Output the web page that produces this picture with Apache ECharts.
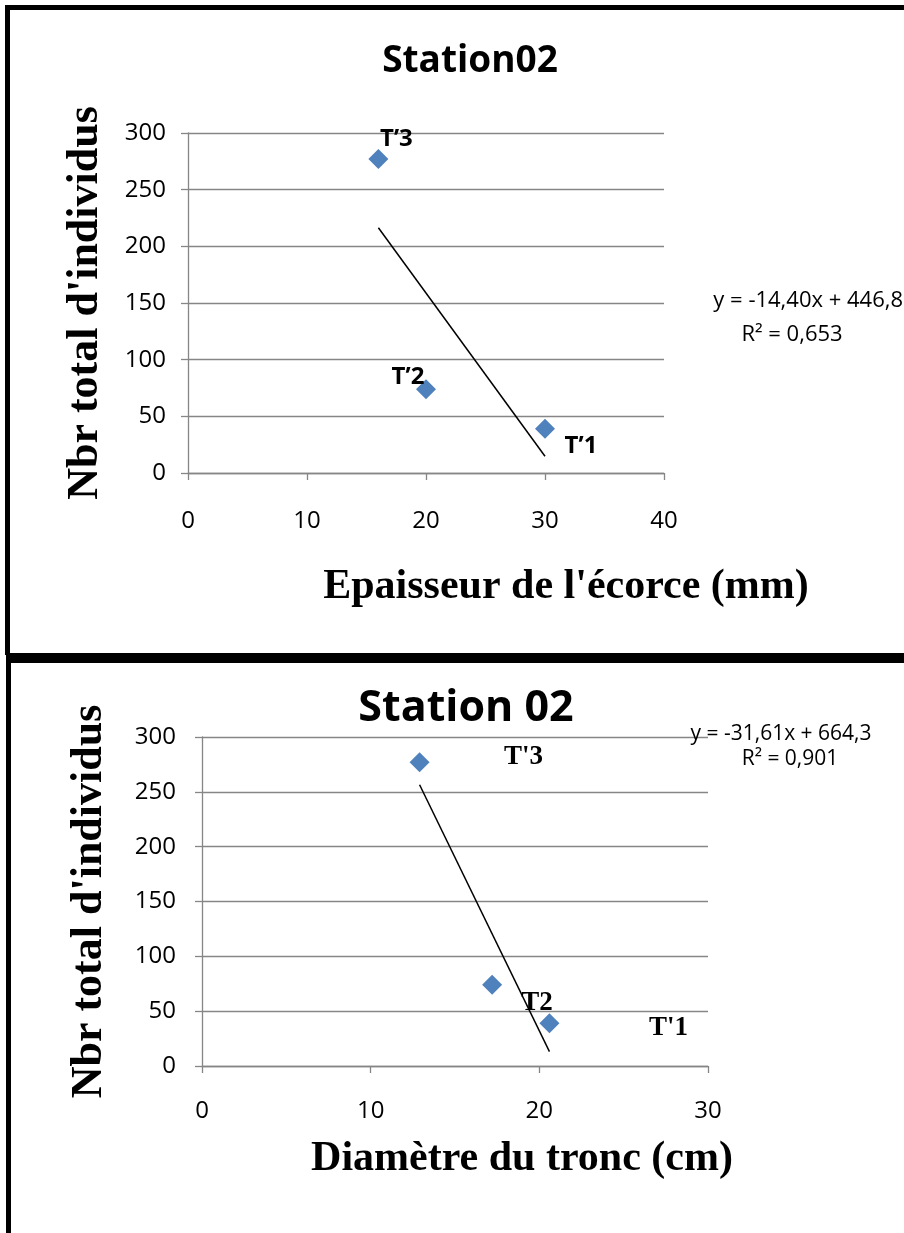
<!DOCTYPE html>
<html>
<head>
<meta charset="utf-8">
<script src="https://cdn.jsdelivr.net/npm/echarts@6/dist/echarts.min.js"></script>
<style>
  html, body { margin: 0; padding: 0; background: #fff; }
  #chart { width: 904px; height: 1233px; }
</style>
</head>
<body>
<div id="chart"></div>
<script>
// values (Station 02)
const individuals = [39, 74, 277];
const barkThickness = [30, 20, 16];       // mm
const trunkDiameter = [20.6, 17.2, 12.9]; // cm
const barkLabels = ['T’1', 'T’2', 'T’3'];
const trunkLabels = ["T'1", 'T2', "T'3"];

// linear trendline end points as drawn
const barkTrendX = [16, 30];
const barkTrendY = [216.4, 14.8];
const trunkTrendX = [12.9, 20.6];
const trunkTrendY = [256.5, 13.1];

const barkEquation = ['y = -14,40x + 446,8', 'R² = 0,653'];
const trunkEquation = ['y = -31,61x + 664,3', 'R² = 0,901'];

// label placement (px offsets from the marker), like the hand-moved Excel labels
const barkLabelOffsets = [[36, 17], [-18, -12], [18, -20]];
const trunkLabelOffsets = [[119, 5], [45, 18], [104, -5]];

const AXIS_GRAY = '#868686';
const MARKER = '#4F81BD';
const SANS = '"Open Sans", sans-serif';
const SERIF = '"Liberation Serif", "Times New Roman", serif';

function zip(xs, ys) {
  return xs.map((x, i) => [x, ys[i]]);
}

function valueAxis(gridIndex, max, opts) {
  return Object.assign({
    type: 'value',
    gridIndex,
    min: 0,
    max,
    interval: opts.interval,
    axisLine: { show: true, onZero: false, lineStyle: { color: AXIS_GRAY, width: 1.3 } },
    axisTick: { show: true, inside: false, length: 7, lineStyle: { color: AXIS_GRAY, width: 1.3 } },
    axisLabel: { color: '#000', fontFamily: SANS, fontSize: 24, margin: opts.margin },
    splitLine: { show: opts.split, lineStyle: { color: AXIS_GRAY, width: 1.3 } },
  }, opts.extra || {});
}

function scatterSeries(idx, xs, labels, offsets) {
  return {
    type: 'scatter',
    xAxisIndex: idx,
    yAxisIndex: idx,
    symbol: 'diamond',
    symbolSize: 20,
    itemStyle: { color: MARKER, opacity: 1 },
    data: xs.map((x, i) => ({
      value: [x, individuals[i]],
      label: { offset: offsets[i], formatter: labels[i] },
    })),
    label: {
      show: true,
      position: 'inside',
      color: '#000',
      opacity: 1,
      fontWeight: 'bold',
      fontFamily: idx === 0 ? SANS : SERIF,
      fontSize: idx === 0 ? 24 : 27,
    },
    z: 3,
  };
}

function trendSeries(idx, xs, ys) {
  return {
    type: 'line',
    xAxisIndex: idx,
    yAxisIndex: idx,
    data: zip(xs, ys),
    showSymbol: false,
    silent: true,
    lineStyle: { color: '#000', width: 1.5 },
    z: 2,
  };
}

function text(str, left, top, align, style) {
  return {
    text: str, left, top, textAlign: align, padding: 0,
    textStyle: Object.assign({ color: '#000', fontWeight: 'normal' }, style),
  };
}

const yName = {
  name: 'Nbr total d\'individus',
  nameLocation: 'middle',
  nameTextStyle: { fontFamily: SERIF, fontWeight: 'bold', fontSize: 44, color: '#000' },
};

const chart = echarts.init(document.getElementById('chart'), null, { renderer: 'canvas' });

chart.setOption({
  animation: false,
  backgroundColor: '#fff',
  title: [
    text('Station02', 470, 43, 'center', { fontFamily: SANS, fontWeight: 'bold', fontSize: 37 }),
    text('Epaisseur de l\'écorce (mm)', 566, 566, 'center', { fontFamily: SERIF, fontWeight: 'bold', fontSize: 42 }),
    text(barkEquation[0], 903, 290, 'right', { fontFamily: SANS, fontSize: 22 }),
    text(barkEquation[1], 792, 324, 'center', { fontFamily: SANS, fontSize: 22 }),

    text('Station 02', 466, 687, 'center', { fontFamily: SANS, fontWeight: 'bold', fontSize: 43 }),
    text('Diamètre du tronc (cm)', 522, 1138, 'center', { fontFamily: SERIF, fontWeight: 'bold', fontSize: 42 }),
    text(trunkEquation[0], 781, 724, 'center', { fontFamily: SANS, fontSize: 21 }),
    text(trunkEquation[1], 790, 749, 'center', { fontFamily: SANS, fontSize: 21 }),
  ],
  grid: [
    { left: 188, top: 133, width: 476, height: 340 },
    { left: 202, top: 737, width: 506, height: 329 },
  ],
  xAxis: [
    valueAxis(0, 40, { interval: 10, margin: 36, split: false }),
    valueAxis(1, 30, { interval: 10, margin: 33, split: false }),
  ],
  yAxis: [
    valueAxis(0, 300, { interval: 50, margin: 22, split: true,
      extra: Object.assign({ nameGap: 80 }, yName) }),
    valueAxis(1, 300, { interval: 50, margin: 26, split: true,
      extra: Object.assign({ nameGap: 90 }, yName) }),
  ],
  series: [
    trendSeries(0, barkTrendX, barkTrendY),
    scatterSeries(0, barkThickness, barkLabels, barkLabelOffsets),
    trendSeries(1, trunkTrendX, trunkTrendY),
    scatterSeries(1, trunkDiameter, trunkLabels, trunkLabelOffsets),
  ],
  graphic: [
    // the black frames around the two pasted charts
    { type: 'rect', shape: { x: 5, y: 5, width: 899, height: 5 }, style: { fill: '#000' }, silent: true },
    { type: 'rect', shape: { x: 5, y: 5, width: 5, height: 650 }, style: { fill: '#000' }, silent: true },
    { type: 'rect', shape: { x: 8, y: 653, width: 896, height: 10 }, style: { fill: '#000' }, silent: true },
    { type: 'rect', shape: { x: 6, y: 655, width: 5, height: 578 }, style: { fill: '#000' }, silent: true },
  ],
});
</script>
</body>
</html>
